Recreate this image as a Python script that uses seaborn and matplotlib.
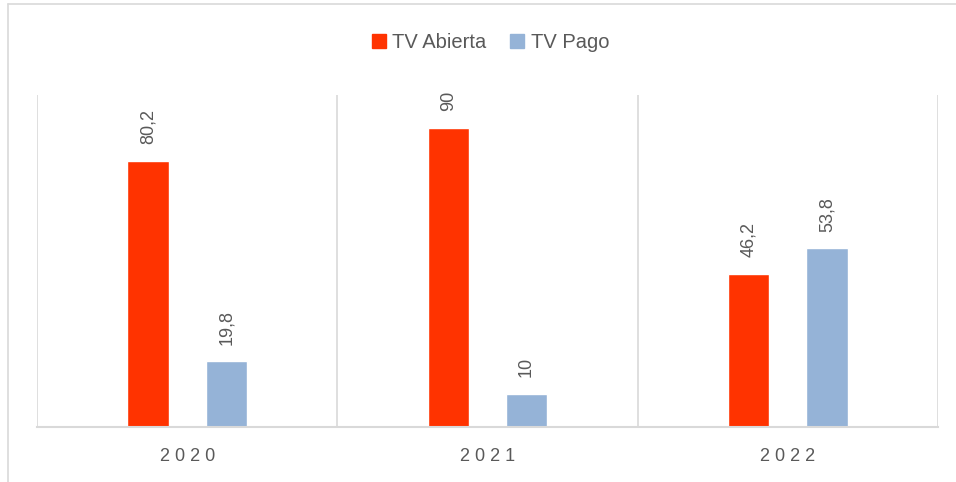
import pandas as pd
import matplotlib.pyplot as plt
import seaborn as sns
from matplotlib.lines import Line2D

# -------------------- DATA --------------------
years = ["2020", "2021", "2022"]
tv_abierta = [80.2, 90, 46.2]
tv_pago = [19.8, 10, 53.8]
series = ["TV Abierta", "TV Pago"]

df = pd.DataFrame({
    "year": years * 2,
    "value": tv_abierta + tv_pago,
    "serie": [series[0]] * len(years) + [series[1]] * len(years),
})

# -------------------- STYLE --------------------
sns.set_style("white")
plt.rcParams["font.family"] = ["Liberation Sans", "DejaVu Sans"]

colors = {"TV Abierta": "#FF3300", "TV Pago": "#95B3D7"}
grid_col = "#D9D9D9"
text_col = "#595959"

fig = plt.figure(figsize=(9.56, 4.82), dpi=100)
ax = fig.add_axes([0.0387, 0.1141, 0.9424, 0.6889])

sns.barplot(data=df, x="year", y="value", hue="serie", palette=colors,
            width=0.52, gap=0.47, saturation=1, ax=ax, legend=False)

# value labels, comma decimals
for cont, vals in zip(ax.containers, [tv_abierta, tv_pago]):
    ax.bar_label(cont, labels=[f"{v:g}".replace(".", ",") for v in vals],
                 rotation=90, padding=12, color=text_col, fontsize=13)

ax.set_ylim(0, 100)
ax.set_xlim(-0.5, len(years) - 0.5)
ax.set_yticks([])
ax.set_xlabel("")
ax.set_ylabel("")

# letter-spaced year labels like the original
ax.set_xticks(range(len(years)))
ax.set_xticklabels([" ".join(y) for y in years], color=text_col, fontsize=13)
ax.tick_params(axis="x", length=0, pad=15)

# vertical separators between categories
for x in [i - 0.5 for i in range(len(years) + 1)]:
    ax.axvline(x, color=grid_col, lw=1.2, zorder=0)

for s in ["top", "right", "left"]:
    ax.spines[s].set_visible(False)
ax.spines["bottom"].set_color(grid_col)
ax.spines["bottom"].set_linewidth(1.5)

# legend on top
handles = [plt.Rectangle((0, 0), 1, 1, color=colors[s]) for s in series]
fig.legend(handles, series, loc="center", bbox_to_anchor=(0.513, 0.911), ncol=2,
           frameon=False, fontsize=14.5, labelcolor=text_col,
           handlelength=0.7, handleheight=0.7, handletextpad=0.3, columnspacing=1.2)

# chart frame (left and top edges visible)
fig.add_artist(Line2D([7.5 / 956, 7.5 / 956], [0, 1 - 4 / 482], color=grid_col, lw=1.2))
fig.add_artist(Line2D([7.5 / 956, 1], [1 - 4 / 482, 1 - 4 / 482], color=grid_col, lw=1.2))

plt.savefig("out.png", dpi=100)
